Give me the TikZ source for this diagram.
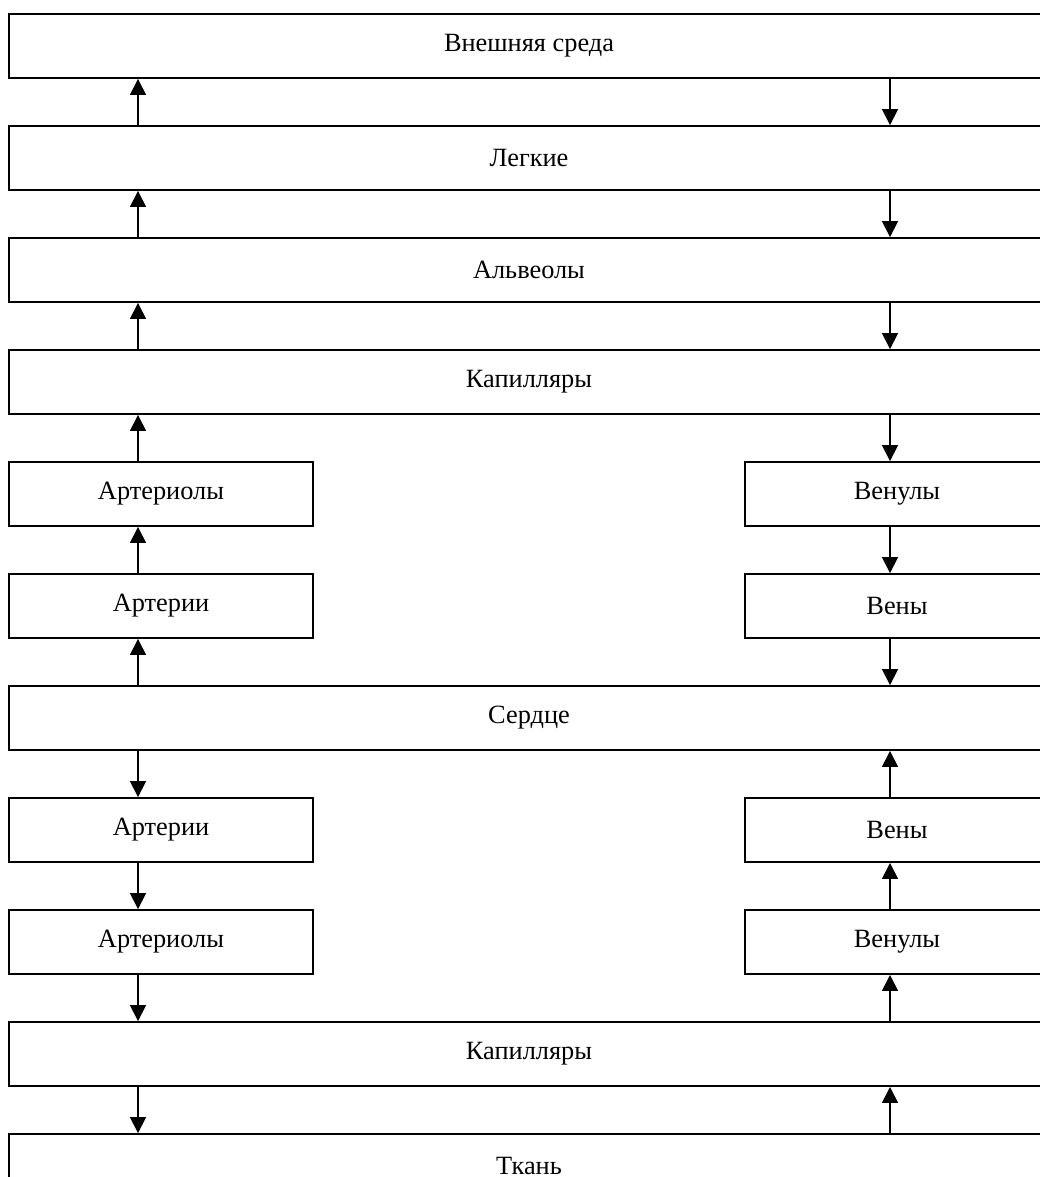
\documentclass[tikz,border=0pt]{standalone}
\usepackage{fontspec}
\setmainfont{Liberation Serif}
\usetikzlibrary{arrows.meta, positioning}
\tikzset{
  bloco/.style={
    draw, line width=1.1pt, minimum height=1.28cm, inner sep=0pt,
    font=\fontsize{15}{17}\selectfont
  },
  blocoLargo/.style={bloco, minimum width=20.8cm},
  blocoCurto/.style={bloco, minimum width=6.08cm},
  seta/.style={-{Triangle[length=0.32cm, width=0.32cm]}, line width=0.9pt},
}

\begin{document}
\begin{tikzpicture}[x=0.02cm, y=-0.02cm]

\useasboundingbox (0,0) rectangle (1040,1177);
\clip (0,0) rectangle (1040,1177);

\coordinate (esq) at (138,0);
\coordinate (dir) at (890,0);

\node[blocoLargo] (externo) at (529,46) {Внешняя среда};
\node[blocoLargo] (pulmao) at (529,158) {Легкие};
\node[blocoLargo] (alveolo) at (529,270) {Альвеолы};
\node[blocoLargo] (capA) at (529,382) {Капилляры};

\node[blocoCurto] (arteriolaA) at (161,494) {Артериолы};
\node[blocoCurto] (venulaA) at (897,494) {Венулы};
\node[blocoCurto] (arteriaA) at (161,606) {Артерии};
\node[blocoCurto] (veiaA) at (897,606) {Вены};

\node[blocoLargo] (coracao) at (529,718) {Сердце};

\node[blocoCurto] (arteriaB) at (161,830) {Артерии};
\node[blocoCurto] (veiaB) at (897,830) {Вены};
\node[blocoCurto] (arteriolaB) at (161,942) {Артериолы};
\node[blocoCurto] (venulaB) at (897,942) {Венулы};

\node[blocoLargo] (capB) at (529,1054) {Капилляры};
\node[blocoLargo] (tecido) at (529,1166) {Ткань};

% lado esquerdo
\foreach \de/\para in {pulmao/externo, alveolo/pulmao, capA/alveolo,
    arteriolaA/capA, arteriaA/arteriolaA, coracao/arteriaA}
  \draw[seta] (\de.north -| esq) -- (\para.south -| esq);
\foreach \de/\para in {coracao/arteriaB, arteriaB/arteriolaB,
    arteriolaB/capB, capB/tecido}
  \draw[seta] (\de.south -| esq) -- (\para.north -| esq);

% lado direito
\foreach \de/\para in {externo/pulmao, pulmao/alveolo, alveolo/capA,
    capA/venulaA, venulaA/veiaA, veiaA/coracao}
  \draw[seta] (\de.south -| dir) -- (\para.north -| dir);
\foreach \de/\para in {tecido/capB, capB/venulaB, venulaB/veiaB,
    veiaB/coracao}
  \draw[seta] (\de.north -| dir) -- (\para.south -| dir);

\end{tikzpicture}
\end{document}
